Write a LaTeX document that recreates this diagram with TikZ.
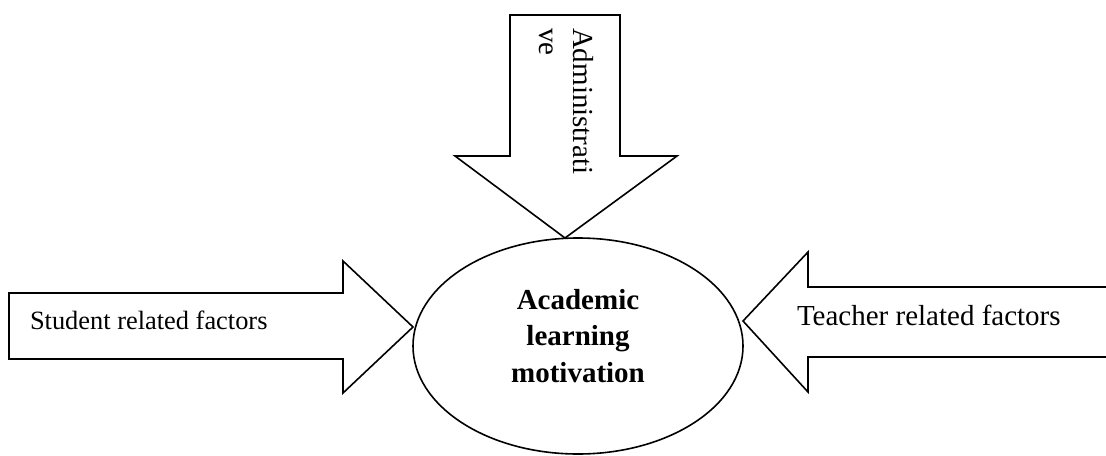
\documentclass[tikz,border=0pt]{standalone}
\usepackage{fontspec}
\setmainfont{Liberation Serif}
\usetikzlibrary{shapes.geometric}
\begin{document}
\begin{tikzpicture}[x=0.5pt,y=-0.5pt,
  blockarrow/.style={draw=black,line width=0.8pt,fill=white,line join=miter},
  lbl/.style={inner sep=0pt,outer sep=0pt,text=black},
  oval/.style={draw=black,line width=0.8pt,ellipse,minimum width=165pt,minimum height=108pt,inner sep=0pt}]
\useasboundingbox (0,0) rectangle (1106,455);
% top arrow
\draw[blockarrow] (510,15) -- (620,15) -- (620,156) -- (677,156) -- (565,238) -- (455,156) -- (510,156) -- cycle;
\node[lbl,rotate=-90,anchor=north west,align=left,font=\fontsize{14.5}{17}\selectfont] (adm) at (594,28) {Administrati\\ve};
% left arrow
\draw[blockarrow] (9,293) -- (343,293) -- (343,261) -- (413,327) -- (343,393) -- (343,359) -- (9,359) -- cycle;
\node[lbl,anchor=base west,font=\fontsize{13.2}{16}\selectfont] (stu) at (30,329) {Student related factors};
% right arrow
\draw[blockarrow] (1106,287) -- (808,287) -- (808,252) -- (743,321) -- (808,392) -- (808,357) -- (1106,357);
\node[lbl,anchor=base west,font=\fontsize{14.5}{17}\selectfont] (tea) at (797,325) {Teacher related factors};
% ellipse
\node[oval] (mot) at (578,346) {};
\node[lbl,align=center,anchor=base,font=\bfseries\fontsize{14.5}{18.25}\selectfont] (motl) at (578,382) {Academic\\learning\\motivation};
\end{tikzpicture}
\end{document}
